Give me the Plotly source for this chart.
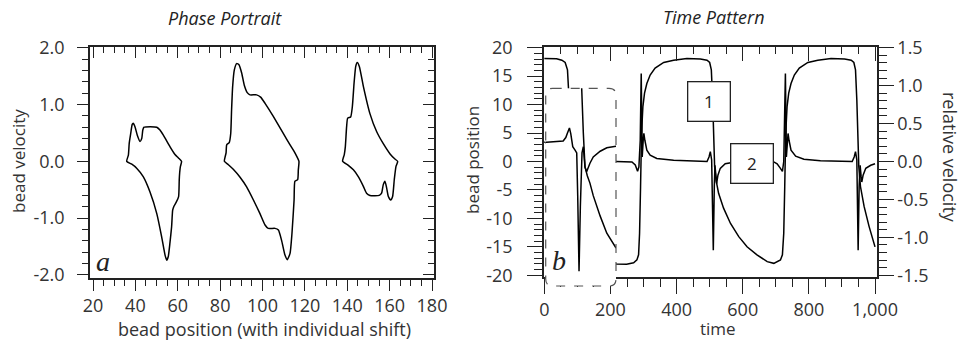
import plotly.graph_objects as go

W, H = 961, 341
def px(x): return x / W
def py(y): return 1 - y / H

FONT = "Open Sans"
SERIF = "Liberation Serif"
INK = "#222222"
TXT = "#333333"

# ---------------- data: phase portrait ----------------
loop1_x = [35.9, 36.7, 37.1, 37.8, 38.5, 39.0, 39.8, 40.9, 42.2, 43.0, 43.5, 44.1, 47.0, 50.1, 51.6, 53.2, 56.3, 58.7, 60.3, 61.8,
           61.2, 60.9, 60.7, 60.4, 59.4, 58.2, 57.6, 57.1, 56.3, 55.5, 54.8, 54.0, 52.4, 50.1, 46.9, 43.7, 40.6, 38.3, 35.9]
loop1_y = [0.0, 0.11, 0.32, 0.49, 0.65, 0.67, 0.61, 0.46, 0.35, 0.40, 0.55, 0.60, 0.61, 0.60, 0.55, 0.46, 0.26, 0.12, 0.06, 0.0,
           -0.1, -0.2, -0.33, -0.62, -0.71, -0.79, -0.86, -1.15, -1.44, -1.68, -1.74, -1.65, -1.33, -0.92, -0.54, -0.27, -0.12, -0.05, 0.0]
loop2_x = [82.0, 82.8, 83.1, 84.3, 85.0, 85.4, 85.9, 86.7, 87.8, 88.9, 90.2, 91.4, 92.8, 94.1, 97.2, 99.1, 101.2, 105.1, 109.8, 113.0, 115.3, 117.2,
           116.9, 116.6, 115.3, 114.9, 113.9, 113.0, 111.7, 110.6, 109.0, 107.5, 105.9, 102.7, 101.2, 98.8, 95.7, 92.5, 89.4, 86.2, 83.9, 82.0]
loop2_y = [0.0, 0.15, 0.29, 0.33, 0.49, 0.90, 1.31, 1.61, 1.72, 1.70, 1.55, 1.34, 1.21, 1.17, 1.17, 1.13, 1.02, 0.79, 0.49, 0.29, 0.15, 0.0,
           -0.15, -0.32, -0.35, -0.68, -1.27, -1.62, -1.73, -1.65, -1.39, -1.21, -1.18, -1.18, -1.12, -0.92, -0.68, -0.45, -0.28, -0.14, -0.06, 0.0]
loop3_x = [137.8, 138.6, 139.1, 139.7, 140.2, 141.6, 142.4, 143.2, 144.0, 144.7, 145.7, 147.6, 150.7, 153.9, 157.0, 160.2, 162.5, 163.8,
           163.0, 162.2, 161.4, 160.5, 159.4, 158.6, 157.8, 157.0, 156.2, 155.1, 150.7, 149.1, 147.6, 145.2, 142.9, 140.5, 137.8]
loop3_y = [0.0, 0.12, 0.26, 0.61, 0.76, 0.78, 0.96, 1.37, 1.67, 1.74, 1.67, 1.32, 0.84, 0.52, 0.31, 0.13, 0.04, 0.0,
           -0.09, -0.32, -0.62, -0.68, -0.62, -0.47, -0.35, -0.41, -0.56, -0.60, -0.60, -0.56, -0.44, -0.27, -0.15, -0.07, 0.0]

# ---------------- data: time pattern ----------------
pos_t = [0, 37, 53, 63, 70, 73, 80, 100, 150, 200,
         217, 249, 270, 280, 285, 288, 291, 294, 298, 303,
         310, 320, 335, 361, 391, 431, 472, 492, 500, 505,
         509, 512, 515, 520, 527, 542, 563, 588, 613, 643,
         674, 694, 714, 720, 724, 727, 730, 734, 739, 746,
         756, 771, 797, 827, 867, 908, 928, 936, 941, 945,
         948, 951, 956, 967, 982, 1000]
pos_v = [18.1, 18.07, 17.8, 17.4, 16.1, 12.9, 2, -8, -15, -17.6,
         -18.0, -18.06, -17.8, -17.3, -16.4, -12.6, -4.4, 4.95, 9.6, 12,
         13.7, 15.2, 16.4, 17.4, 17.8, 18.1, 18.0, 17.8, 17.4, 16.1,
         10.8, 3.8, -0.9, -3.5, -5.6, -8.2, -10.9, -13.2, -15.0, -16.4,
         -17.6, -17.9, -17.3, -16.4, -12.6, -4.4, 4.95, 9.6, 12, 13.7,
         15.2, 16.4, 17.4, 17.8, 18.1, 18.0, 17.8, 17.4, 16.1, 10.8,
         3.8, -0.9, -4.4, -7.9, -11.4, -15.0]
vel_t = [0, 100, 217, 265, 275, 282, 286, 290, 293, 296,
         299, 301, 304, 310, 320, 340, 391, 492, 498, 502,
         506, 509, 511, 514, 516, 519, 521, 525, 532, 547,
         573, 694, 704, 714, 720, 724, 727, 729, 732, 734,
         737, 740, 746, 760, 785, 835, 931, 937, 941, 945,
         947, 949, 952, 955, 958, 960, 964, 972, 987, 1000]
vel_v = [0.26, 0, 0, -0.005, -0.045, -0.13, -0.07, 0.28, 1.16, 0.06,
         0.28, 0.37, 0.28, 0.15, 0.085, 0.04, 0.015, 0, 0.06, 0.13,
         0.02, -0.5, -1.17, -0.33, -0.05, -0.2, -0.29, -0.18, -0.09, -0.03,
         -0.01, -0.005, -0.03, -0.09, -0.13, 0.0, 0.6, 1.16, 0.06, 0.28,
         0.37, 0.28, 0.15, 0.07, 0.03, 0.01, 0, 0.06, 0.13, 0.02,
         -0.5, -1.17, -0.33, -0.05, -0.2, -0.27, -0.18, -0.09, -0.05, -0.03]
# inset (box b), expressed in the main panel's time / bead-position units
insetA_t = [4.2, 7, 57, 65, 70, 76, 80, 86, 93, 98, 101, 105, 109, 114, 118, 123, 128, 138, 148, 169, 189, 217]
insetA_v = [3.4, 3.4, 3.6, 4.2, 5.0, 5.9, 4.9, 2.6, 2.0, 1.5, -6, -19.3, -8, 1.5, 2.6, -1.0, -1.8, -0.3, 0.8, 1.8, 2.4, 2.7]
insetB_t = [110, 113, 118, 123, 130, 138, 148, 169, 189, 217]
insetB_v = [16, 12.9, 5.0, -0.9, -2.5, -3.8, -6.0, -9.6, -12.6, -15.2]

# tick labels (plain hyphen minus, as in the reference)
x_ticks_left = [20, 40, 60, 80, 100, 120, 140, 160, 180]
x_text_left = ["20", "40", "60", "80", "100", "120", "140", "160", "180"]
y_ticks_left = [-2.0, -1.0, 0.0, 1.0, 2.0]
y_text_left = ["-2.0", "-1.0", "0.0", "1.0", "2.0"]
t_ticks = [0, 200, 400, 600, 800, 1000]
t_text = ["0", "200", "400", "600", "800", "1,000"]
pos_ticks = [-20, -15, -10, -5, 0, 5, 10, 15, 20]
pos_text = ["-20", "-15", "-10", "-5", "0", "5", "10", "15", "20"]
vel_ticks = [-1.5, -1.0, -0.5, 0.0, 0.5, 1.0, 1.5]
vel_text = ["-1.5", "-1.0", "-0.5", "0.0", "0.5", "1.0", "1.5"]

fig = go.Figure()
line = dict(color="black", width=1.5)
for lx, ly in [(loop1_x, loop1_y), (loop2_x, loop2_y), (loop3_x, loop3_y)]:
    fig.add_trace(go.Scatter(x=lx, y=ly, mode="lines", line=dict(color="black", width=1.5, shape="spline", smoothing=0.5),
                             xaxis="x", yaxis="y", hoverinfo="skip"))
fig.add_trace(go.Scatter(x=pos_t, y=pos_v, mode="lines", line=line, xaxis="x2", yaxis="y2", hoverinfo="skip"))
fig.add_trace(go.Scatter(x=vel_t, y=vel_v, mode="lines", line=line, xaxis="x2", yaxis="y3", hoverinfo="skip"))
fig.add_trace(go.Scatter(x=insetA_t, y=insetA_v, mode="lines", line=line, xaxis="x4", yaxis="y4", hoverinfo="skip"))
fig.add_trace(go.Scatter(x=insetB_t, y=insetB_v, mode="lines", line=line, xaxis="x4", yaxis="y4", hoverinfo="skip"))
# carriers for the mirrored (inside-tick) frame axes
for xa, ya in [("x5", "y"), ("x", "y5"), ("x6", "y2")]:
    fig.add_trace(go.Scatter(x=[], y=[], xaxis=xa, yaxis=ya, hoverinfo="skip"))

tf = dict(family=FONT, size=18, color=TXT)
def ax(**kw):
    d = dict(showgrid=False, zeroline=False, showline=True, linecolor=INK, linewidth=1.5,
             tickcolor=INK, tickwidth=1.3, tickfont=tf, automargin=False)
    d.update(kw)
    return d

def mnr(ticks, dtick, ticklen):
    return dict(ticks=ticks, dtick=dtick, tick0=0, ticklen=ticklen, tickwidth=1.3, tickcolor=INK)

LX = [px(90), px(434)]
LY = [py(278), py(47)]
RX = [px(544), px(877)]
RY = [py(277), py(47)]
xr_left = [18.58, 180.94]
yr_left = [-2.053, 2.012]
xr_right = [-1, 1006]
yr_right = [-20.3, 20.12]
yr_vel = [-1.522, 1.509]

fig.update_layout(
    width=W, height=H, margin=dict(l=0, r=0, t=0, b=0, pad=0, autoexpand=False),
    paper_bgcolor="white", plot_bgcolor="white", showlegend=False,
    xaxis=ax(domain=LX, range=xr_left, anchor="y", ticks="outside", ticklen=11,
             tickvals=x_ticks_left, ticktext=x_text_left, ticklabelstandoff=0, minor=mnr("outside", 5, 6)),
    yaxis=ax(domain=LY, range=yr_left, anchor="x", ticks="outside", ticklen=11,
             tickvals=y_ticks_left, ticktext=y_text_left, ticklabelstandoff=9, minor=mnr("outside", 0.2, 6)),
    xaxis5=ax(range=xr_left, overlaying="x", anchor="y", side="top", ticks="inside", ticklen=11,
              tickvals=x_ticks_left, showticklabels=False, minor=mnr("inside", 5, 6)),
    yaxis5=ax(range=yr_left, overlaying="y", anchor="x", side="right", ticks="inside", ticklen=11,
              tickvals=y_ticks_left, showticklabels=False, minor=mnr("inside", 0.2, 6)),
    xaxis2=ax(domain=RX, range=xr_right, anchor="y2", ticks="outside", ticklen=15,
              tickvals=t_ticks, ticktext=t_text, ticklabelstandoff=1, minor=mnr("outside", 50, 8)),
    yaxis2=ax(domain=RY, range=yr_right, anchor="x2", ticks="outside", ticklen=15,
              tickvals=pos_ticks, ticktext=pos_text, ticklabelstandoff=11, minor=mnr("outside", 1, 8)),
    yaxis3=ax(range=yr_vel, overlaying="y2", anchor="x2", side="right", ticks="outside", ticklen=15,
              tickvals=vel_ticks, ticktext=vel_text, ticklabelstandoff=0, minor=mnr("outside", 0.1, 8)),
    xaxis6=ax(range=xr_right, overlaying="x2", anchor="y2", side="top", ticks="inside", ticklen=14,
              tickvals=t_ticks, showticklabels=False, minor=mnr("inside", 50, 7)),
    xaxis4=dict(domain=[px(545.7), px(616)], range=[4.2, 216.8], visible=False, anchor="y4", automargin=False),
    yaxis4=dict(domain=[py(286), py(88.3)], range=[-21.88, 12.86], visible=False, anchor="x4", automargin=False),
)

# dashed rounded frame of the inset
x0, x1, y0, y1, r = 545.7, 616.0, 88.3, 286.0, 7.0
P = lambda a, b: f"{px(a):.5f},{py(b):.5f}"
path = (f"M {P(x0 + r, y0)} L {P(x1 - r, y0)} Q {P(x1, y0)} {P(x1, y0 + r)} "
        f"L {P(x1, y1 - r)} Q {P(x1, y1)} {P(x1 - r, y1)} L {P(x0 + r, y1)} "
        f"Q {P(x0, y1)} {P(x0, y1 - r)} L {P(x0, y0 + r)} Q {P(x0, y0)} {P(x0 + r, y0)} Z")
fig.add_shape(type="path", path=path, xref="paper", yref="paper", layer="above",
              line=dict(color="#555555", width=1.2, dash="dash"), fillcolor="rgba(0,0,0,0)")

def note(text, x, y, size=18, angle=0, family=FONT, italic=False, color=TXT, **kw):
    fig.add_annotation(text=f"<i>{text}</i>" if italic else text, x=px(x), y=py(y), xref="paper", yref="paper",
                       showarrow=False, textangle=angle, font=dict(family=family, size=size, color=color),
                       xanchor="center", yanchor="middle", **kw)

note("Phase Portrait", 225, 18, size=18, italic=True, color=INK)
note("Time Pattern", 714, 17, size=18, italic=True, color=INK)
note("bead velocity", 18, 161, size=17, angle=-90)
note("bead position (with individual shift)", 264, 329)
note("bead position", 472, 160, size=17, angle=-90)
note("relative velocity", 950, 157, angle=90)
note("time", 718, 328.5, size=17)
note("a", 103, 261, size=28, family=SERIF, italic=True, color=INK)
note("b", 559, 260, size=28, family=SERIF, italic=True, color=INK)
note("1", 709, 102, size=17, bgcolor="white", bordercolor=INK, borderwidth=1.3, borderpad=0, width=41, height=38, color=INK)
note("2", 752, 163, size=17, bgcolor="white", bordercolor=INK, borderwidth=1.3, borderpad=0, width=41, height=38, color=INK)

fig.write_html("out.html")
